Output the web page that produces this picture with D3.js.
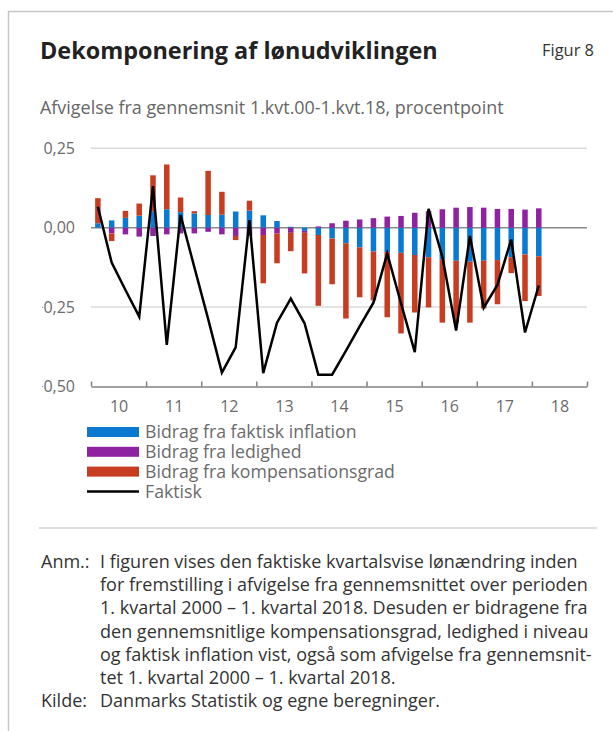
<!DOCTYPE html>
<html>
<head>
<meta charset="utf-8">
<script src="https://cdn.jsdelivr.net/npm/d3@7"></script>
<style>
  body { margin: 0; background: #fff; }
  svg text { font-family: "Open Sans", Lato, sans-serif; }
</style>
</head>
<body>
<div id="vis"></div>
<script>
// years on the axis, quarters 2010K1 - 2018K4 (bars up to 2018K1)
const years = [2010, 2011, 2012, 2013, 2014, 2015, 2016, 2017, 2018];
const quarters = years.flatMap(y => [1, 2, 3, 4].map(q => y + "K" + q));

// contributions, procentpoint
const inflation = [0.014, 0.023, 0.031, 0.038, 0.052, 0.058, 0.049, 0.045, 0.040, 0.041, 0.051, 0.054,
  0.039, 0.021, 0.003, -0.010, -0.023, -0.034, -0.049, -0.062, -0.075, -0.077, -0.079, -0.086,
  -0.093, -0.100, -0.104, -0.107, -0.104, -0.102, -0.093, -0.084, -0.090];
const ledighed = [0.000, -0.018, -0.021, -0.028, -0.026, -0.021, -0.018, -0.018, -0.013, -0.021, -0.026, -0.025,
  -0.023, -0.018, -0.016, -0.006, 0.004, 0.014, 0.022, 0.026, 0.030, 0.035, 0.037, 0.047,
  0.052, 0.058, 0.063, 0.065, 0.063, 0.059, 0.059, 0.057, 0.061];
const kompensation = [0.079, -0.024, 0.022, 0.038, 0.113, 0.141, 0.046, 0.007, 0.139, 0.072, -0.013, 0.031,
  -0.152, -0.094, -0.058, -0.128, -0.223, -0.144, -0.237, -0.157, -0.154, -0.205, -0.254, -0.181,
  -0.158, -0.199, -0.195, -0.192, -0.150, -0.139, -0.050, -0.147, -0.125];
const faktisk = [0.066, -0.110, -0.196, -0.280, 0.131, -0.369, 0.040, -0.124, -0.287, -0.456, -0.377, 0.024,
  -0.458, -0.299, -0.223, -0.301, -0.463, -0.463, -0.388, -0.311, -0.236, -0.081, -0.238, -0.392,
  0.059, -0.091, -0.324, -0.026, -0.252, -0.180, -0.037, -0.330, -0.182];

const yTicks = [0.25, 0, -0.25, -0.5];
const seriesNames = ["Bidrag fra faktisk inflation", "Bidrag fra ledighed", "Bidrag fra kompensationsgrad", "Faktisk"];
const colors = ["#0a79d1", "#8f22a0", "#c73d22"];

const width = 613, height = 731;
const svg = d3.select("#vis").append("svg")
  .attr("width", width)
  .attr("height", height);

// scale a text's font size so it spans the given width
function fitWidth(sel, target) {
  const w = sel.node().getComputedTextLength();
  const fs = parseFloat(sel.style("font-size"));
  const size = fs * target / w;
  sel.style("font-size", size + "px");
  return size;
}

// frame
svg.append("path")
  .attr("d", `M8.5,${height} V11.5 H${width}`)
  .attr("fill", "none")
  .attr("stroke", "#c6c6c6")
  .attr("stroke-width", 1.5);

// heading
const title = svg.append("text").attr("x", 40).attr("y", 59)
  .style("font-size", "22px").style("font-weight", "bold").attr("fill", "#222")
  .text("Dekomponering af lønudviklingen");
fitWidth(title, 398);
const fig = svg.append("text").attr("x", 594).attr("y", 56).attr("text-anchor", "end")
  .style("font-size", "15px").attr("fill", "#333")
  .text("Figur 8");
fitWidth(fig, 52);
const sub = svg.append("text").attr("x", 40).attr("y", 114)
  .style("font-size", "16px").attr("fill", "#666")
  .text("Afvigelse fra gennemsnit 1.kvt.00-1.kvt.18, procentpoint");
fitWidth(sub, 464);

// scales
const x = d3.scaleBand().domain(quarters).range([91, 587]).paddingInner(0.6).paddingOuter(0.3);
const xYear = d3.scaleLinear().domain([2010, 2019]).range([91, 587]);
const y = d3.scaleLinear().domain([-0.5, 0.25]).range([386.5, 148.3]);

// grid
svg.append("g").selectAll("line")
  .data(yTicks.filter(d => d !== -0.5))
  .join("line")
  .attr("x1", 91).attr("x2", 587)
  .attr("y1", d => y(d)).attr("y2", d => y(d))
  .attr("stroke", d => d === 0 ? "#8a8a8a" : "#dadada")
  .attr("stroke-width", 1.5);

// y labels (minus sign mostly hidden as in the original)
const fmt = d => d3.format(".2f")(d).replace(".", ",");
svg.append("clipPath").attr("id", "yclip")
  .append("rect").attr("x", -33).attr("y", 130).attr("width", 50).attr("height", 270);
const yAxis = svg.append("g")
  .attr("transform", "translate(75,0)")
  .attr("clip-path", "url(#yclip)")
  .call(d3.axisLeft(y).tickValues(yTicks).tickSize(0).tickPadding(0).tickFormat(fmt));
yAxis.select(".domain").remove();
yAxis.selectAll("text").style("font-size", "16px").attr("fill", "#6b6b6b");

// stacked bars
const rows = faktisk.map((f, i) => ({
  q: quarters[i], inflation: inflation[i], ledighed: ledighed[i], kompensation: kompensation[i]
}));
const stack = d3.stack()
  .keys(["inflation", "ledighed", "kompensation"])
  .offset(d3.stackOffsetDiverging);
const layers = stack(rows);

svg.append("g").selectAll("g")
  .data(layers)
  .join("g")
  .attr("fill", (d, i) => colors[i])
  .selectAll("rect")
  .data(d => d)
  .join("rect")
  .attr("x", d => x(d.data.q))
  .attr("width", x.bandwidth())
  .attr("y", d => y(Math.max(d[0], d[1])))
  .attr("height", d => Math.abs(y(d[0]) - y(d[1])));

// x axis: ticks at year borders, labels in middle of year
const xAxis = svg.append("g")
  .attr("transform", `translate(0,${y(-0.5)})`)
  .call(d3.axisBottom(xYear).tickValues(d3.range(2010, 2020)).tickSizeInner(-5).tickSizeOuter(0).tickFormat(""));
xAxis.selectAll("path, line").attr("stroke", "#808080").attr("stroke-width", 1.5);

const xLabels = svg.append("g")
  .attr("transform", `translate(0,${y(-0.5)})`)
  .call(d3.axisBottom(xYear).tickValues(years.map(d => d + 0.5)).tickSize(0).tickPadding(14)
    .tickFormat(d => String(Math.floor(d) % 100)));
xLabels.select(".domain").remove();
xLabels.selectAll("text").style("font-size", "16px").attr("fill", "#6b6b6b");

// line
const line = d3.line()
  .x((d, i) => x(quarters[i]) + x.bandwidth() / 2)
  .y(d => y(d));
svg.append("path")
  .datum(faktisk)
  .attr("d", line)
  .attr("fill", "none")
  .attr("stroke", "#000")
  .attr("stroke-width", 2.5);

// legend
const legend = svg.append("g").attr("transform", "translate(87,432)");
const legendTexts = [];
seriesNames.forEach((name, i) => {
  const g = legend.append("g").attr("transform", `translate(0,${i * 19.8})`);
  if (i < 3) {
    g.append("rect").attr("x", 0).attr("y", -5).attr("width", 52).attr("height", 10).attr("fill", colors[i]);
  } else {
    g.append("line").attr("x1", 0).attr("x2", 52).attr("stroke", "#000").attr("stroke-width", 2.5);
  }
  legendTexts.push(g.append("text").attr("x", 58).attr("dy", "0.35em")
    .style("font-size", "16px").attr("fill", "#6b6b6b").text(name));
});
const legendSize = fitWidth(legendTexts[2], 250);
legendTexts.forEach(t => t.style("font-size", legendSize + "px"));

// notes
svg.append("line").attr("x1", 39).attr("x2", 597).attr("y1", 528).attr("y2", 528)
  .attr("stroke", "#bdbdbd").attr("stroke-width", 1.2);

const noteLines = [
  "I figuren vises den faktiske kvartalsvise lønændring inden",
  "for fremstilling i afvigelse fra gennemsnittet over perioden",
  "1. kvartal 2000 – 1. kvartal 2018. Desuden er bidragene fra",
  "den gennemsnitlige kompensationsgrad, ledighed i niveau",
  "og faktisk inflation vist, også som afvigelse fra gennemsnit-",
  "tet 1. kvartal 2000 – 1. kvartal 2018."
];
const notes = svg.append("g").attr("fill", "#333");
const noteTexts = noteLines.map((t, i) =>
  notes.append("text").attr("x", 100).attr("y", 568 + i * 23.2).style("font-size", "16px").text(t));
const noteSize = fitWidth(noteTexts[0], 478);
notes.append("text").attr("x", 41).attr("y", 568).text("Anm.:");
notes.append("text").attr("x", 41).attr("y", 568 + 6 * 23.2).text("Kilde:");
notes.append("text").attr("x", 100).attr("y", 568 + 6 * 23.2).text("Danmarks Statistik og egne beregninger.");
notes.selectAll("text").style("font-size", noteSize + "px");
</script>
</body>
</html>
